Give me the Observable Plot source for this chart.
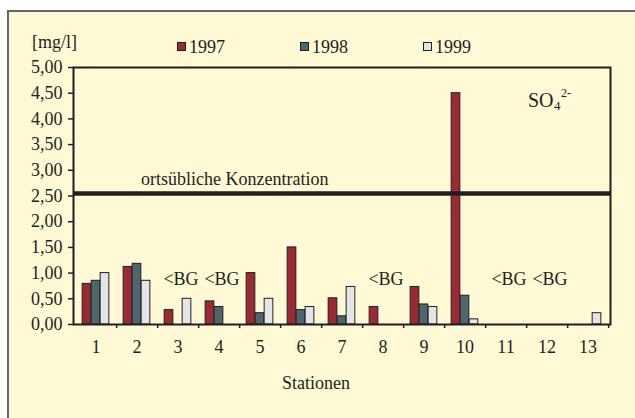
<!DOCTYPE html>
<html>
<head>
<meta charset="utf-8">
<script src="https://cdn.jsdelivr.net/npm/d3@7"></script>
<script src="https://cdn.jsdelivr.net/npm/@observablehq/plot@0.6"></script>
<style>
  body { margin: 0; background: #fff; }
  #wrap { position: relative; width: 635px; height: 418px; overflow: hidden; background: #fff;
          font-family: "Liberation Serif", Tinos, "DejaVu Serif", serif; color: #231f20; }
  #panel { position: absolute; left: 7px; top: 10px; width: 640px; height: 420px;
           background: #fff9d6; border-left: 2px solid #676767; border-top: 2px solid #676767; }
  #chart { position: absolute; left: 0; top: 0; }
  #chart svg text { font-family: "Liberation Serif", Tinos, "DejaVu Serif", serif; }
  .lab { position: absolute; font-size: 18px; line-height: 18px; white-space: nowrap; }
  .sw { position: absolute; width: 7px; height: 7px; border: 1px solid #231f20; }
</style>
</head>
<body>
<div id="wrap">
  <div id="panel"></div>
  <div id="chart"></div>
</div>
<script>
// ---- data ----
const stations = ["1","2","3","4","5","6","7","8","9","10","11","12","13"];
const years = ["1997", "1998", "1999"];
const v1997 = [0.79, 1.12, 0.28, 0.45, 1.00, 1.50, 0.51, 0.34, 0.73, 4.50, null, null, null];
const v1998 = [0.85, 1.18, null, 0.34, 0.22, 0.28, 0.16, null, 0.39, 0.56, null, null, null];
const v1999 = [1.00, 0.85, 0.50, null, 0.50, 0.34, 0.73, null, 0.34, 0.10, null, null, 0.22];
const yTicks = [0, 0.5, 1, 1.5, 2, 2.5, 3, 3.5, 4, 4.5, 5];
const refValue = [2.55];
const refLabel = ["ortsübliche Konzentration"];
const bgStations = ["3", "4", "8", "11", "12"];
const bgLabel = "<BG";
const unitLabel = "[mg/l]";
const xLabel = "Stationen";

// ---- style ----
const colors = ["#9b2a35", "#4e676c", "#e4e5e8"];
const ink = "#231f20";
const W = 635, H = 418, mL = 73, mR = 25, mT = 67, mB = 94;
const bw = (W - mL - mR) / stations.length;
const barW = 9;
const inset = (bw - barW) / 2;
const font = `"Liberation Serif", Tinos, "DejaVu Serif", serif`;
const fs = 18;

const series = [v1997, v1998, v1999];
const barMarks = series.map((vals, k) =>
  Plot.barY(
    stations.map((s, i) => ({station: s, value: vals[i]})).filter(d => d.value != null),
    {x: "station", y: "value", fill: colors[k], stroke: ink, strokeWidth: 1,
     dx: (k - 1) * barW, insetLeft: inset, insetRight: inset}
  )
);

const fmt = d => d.toFixed(2).replace(".", ",");

const chart = Plot.plot({
  width: W, height: H,
  marginLeft: mL, marginRight: mR, marginTop: mT, marginBottom: mB,
  style: {background: "transparent", fontFamily: font, color: ink, overflow: "visible"},
  x: {type: "band", domain: stations, padding: 0},
  y: {domain: [0, 5]},
  marks: [
    ...barMarks,
    Plot.ruleY(refValue, {stroke: ink, strokeWidth: 4.5}),
    Plot.text(refLabel, {x: () => "2", y: () => refValue[0], text: d => d, textAnchor: "start",
      lineAnchor: "bottom", dx: 4, dy: -8, fontSize: fs, fill: ink}),
    Plot.text(bgStations, {x: d => d, y: () => 0.88, text: () => bgLabel, fontSize: fs, fill: ink, dx: 3}),
    Plot.text(["SO"], {x: () => "12", y: () => 4.32, text: d => d, textAnchor: "start", lineAnchor: "bottom",
      dx: -19, dy: 5, fontSize: 20, fill: ink}),
    Plot.text(["4"], {x: () => "12", y: () => 4.32, text: d => d, textAnchor: "start", lineAnchor: "bottom",
      dx: 7, dy: 8, fontSize: 13, fill: ink}),
    Plot.text(["2-"], {x: () => "12", y: () => 4.32, text: d => d, textAnchor: "start", lineAnchor: "bottom",
      dx: 14, dy: -5, fontSize: 12, fill: ink}),
    Plot.axisY({ticks: yTicks, tickFormat: fmt, tickSize: 5, tickPadding: 6, fontSize: fs,
      label: null, stroke: ink, strokeWidth: 1.5, fill: ink}),
    Plot.axisX({tickSize: 0, tickPadding: 16, fontSize: fs, label: null, fill: ink}),
    Plot.ruleX(stations, {x: d => d, y1: () => 0, y2: () => 0, dx: bw / 2, insetBottom: -4,
      stroke: ink, strokeWidth: 1.5}),
    Plot.text([xLabel], {frameAnchor: "bottom", text: d => d, dx: -26, dy: 52, lineAnchor: "top",
      fontSize: fs, fill: ink}),
    Plot.frame({stroke: ink, strokeWidth: 2})
  ]
});
document.getElementById("chart").appendChild(chart);

// ---- legend & unit label (HTML, outside the svg plot area) ----
const wrap = document.getElementById("wrap");
function addLabel(text, left, top) {
  const el = document.createElement("div");
  el.className = "lab"; el.textContent = text;
  el.style.left = left + "px"; el.style.top = top + "px";
  wrap.appendChild(el);
}
addLabel(unitLabel, 32, 33);
const legendX = [177, 300, 423];
years.forEach((y, k) => {
  const sw = document.createElement("div");
  sw.className = "sw"; sw.style.background = colors[k];
  sw.style.left = legendX[k] + "px"; sw.style.top = "42px";
  wrap.appendChild(sw);
  addLabel(y, legendX[k] + 12, 38);
});
</script>
</body>
</html>
